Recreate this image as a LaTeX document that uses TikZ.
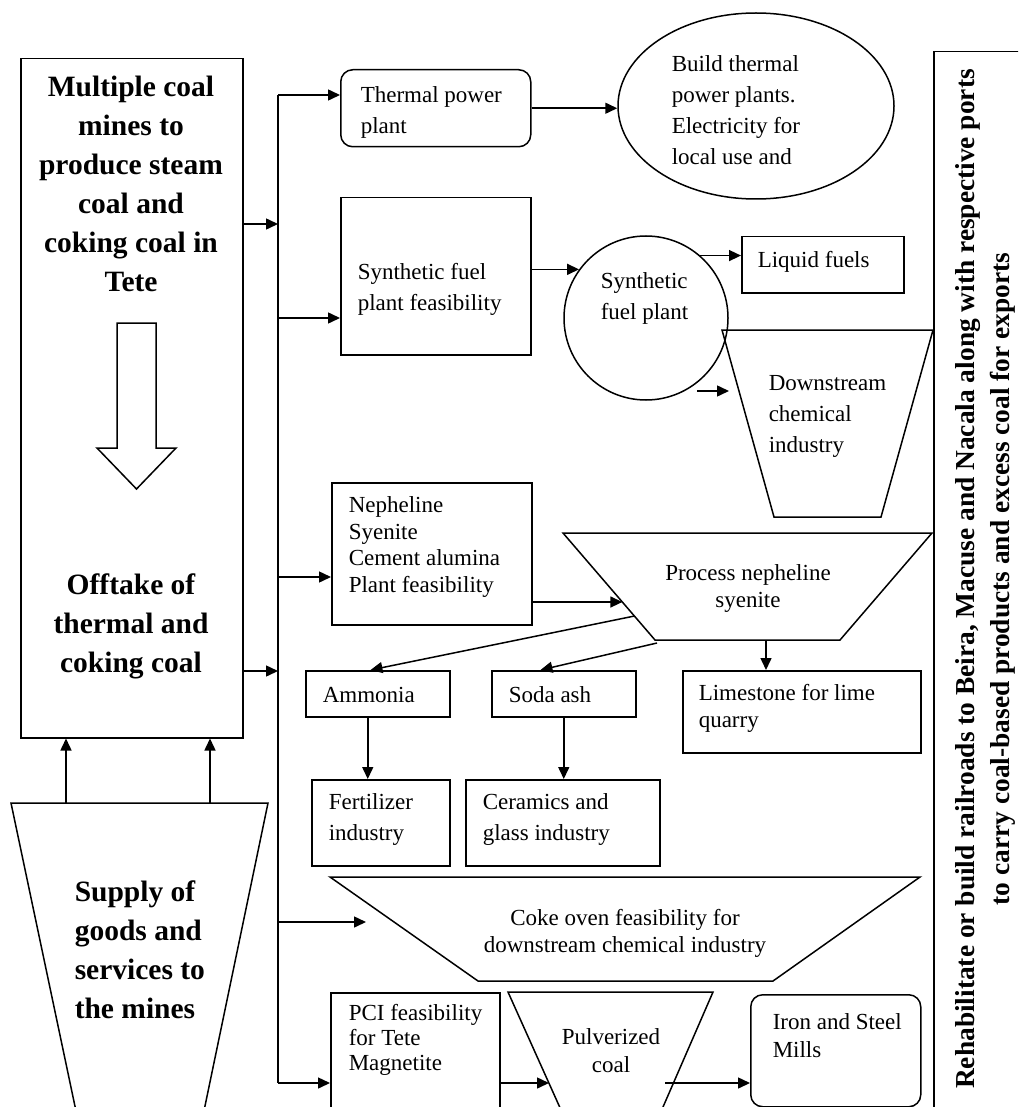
\documentclass[tikz,border=0pt]{standalone}
\usepackage{fontspec}
\setmainfont{Liberation Serif}
\usetikzlibrary{arrows.meta,shapes.geometric,calc}
\tikzset{
  arr/.style={-{Triangle[length=12pt,width=11pt]}},
  box/.style={draw, rectangle, inner sep=0pt, anchor=north west},
  rbox/.style={box, rounded corners=12pt},
  txt/.style={inner sep=0pt, align=left, anchor=west, font=\fontsize{23}{31}\selectfont},
  txtn/.style={txt, font=\fontsize{23}{26.5}\selectfont},
  btxt/.style={inner sep=0pt, font=\bfseries\fontsize{29.5}{39}\selectfont},
}
\begin{document}
\begin{tikzpicture}[x=1pt,y=-1pt,line width=1.5pt]
\useasboundingbox (0,0) rectangle (1018,1107);
\clip (0,0) rectangle (1018,1107);
\fill[white] (0,0) rectangle (1018,1107);

% left column
\node[box, minimum width=222pt, minimum height=679pt] (main) at (20,58) {};
\node[btxt, align=center] (maint) at (131,184) {Multiple coal\\mines to\\produce steam\\coal and\\coking coal in\\Tete};
\node[btxt, align=center] (offt) at (131,626) {Offtake of\\thermal and\\coking coal};
\draw (117,323) -- (156,323) -- (156,448) -- (176,448) -- (136.5,489) -- (97,448) -- (117,448) -- cycle;

\draw (11,803) -- (268,803) -- (200,1130) -- (80,1130) -- cycle;
\node[btxt, align=left, anchor=west] (supt) at (74,950) {Supply of\\goods and\\services to\\the mines};
\coordinate (s1) at (66,803);
\coordinate (s2) at (210,803);
\draw[arr] (s1) -- (s1 |- main.south);
\draw[arr] (s2) -- (s2 |- main.south);

% bus
\coordinate (b1) at (278,95);
\coordinate (b2) at (278,224);
\coordinate (b3) at (278,318);
\coordinate (b4) at (278,577);
\coordinate (b5) at (278,671);
\coordinate (b6) at (278,922);
\coordinate (b7) at (278,1083);
\draw (b1) -- (b7);
\draw[arr] (main.east |- b2) -- (b2);
\draw[arr] (main.east |- b5) -- (b5);

% thermal
\node[rbox, minimum width=190pt, minimum height=77pt] (tpp) at (340,69) {};
\node[txt] (tppt) at (360,112) {Thermal power\\plant};
\node[draw, ellipse, minimum width=276pt, minimum height=186pt, inner sep=0pt] (ell) at (756,106) {};
\node[txt] (ellt) at (671,110) {Build thermal\\power plants.\\Electricity for\\local use and};
\draw[arr] (b1) -- (b1 -| tpp.west);
\draw[arr] (tpp.east) -- (tpp.east -| ell.west);

% synthetic fuel
\node[box, minimum width=190pt, minimum height=157pt] (sfb) at (340,197) {};
\node[txt] (sfbt) at (357,289) {Synthetic fuel\\plant feasibility};
\draw[arr] (b3) -- (b3 -| sfb.west);
\node[draw, circle, minimum size=164pt, inner sep=0pt] (circ) at (646,318) {};
\node[txt] (circt) at (600,298) {Synthetic\\fuel plant};
\draw[arr] (sfb.east |- circ.144) -- (circ.144);
\node[box, minimum width=162pt, minimum height=56pt] (liq) at (741,236) {};
\node[txt] (liqt) at (757,262) {Liquid fuels};
\draw[arr] (circ.49) -- (circ.49 -| liq.west);
\coordinate (ds1) at (722,330);
\coordinate (ds2) at (933,330);
\coordinate (ds3) at (881,517);
\coordinate (ds4) at (774,517);
\draw (ds1) -- (ds2) -- (ds3) -- (ds4) -- cycle;
\node[txt] (dst) at (768,416) {Downstream\\chemical\\industry};
\coordinate (dsin) at (729,391);
\coordinate (dsout) at (697,391);
\draw[arr] (dsout) -- (dsin);

% nepheline
\node[box, minimum width=200pt, minimum height=142pt] (neph) at (331,482) {};
\node[txtn] (nepht) at (348,547) {Nepheline\\Syenite\\Cement alumina\\Plant feasibility};
\draw[arr] (b4) -- (b4 -| neph.west);
\coordinate (p1) at (563,533);
\coordinate (p2) at (932,533);
\coordinate (p3) at (840,640);
\coordinate (p4) at (655,640);
\draw (p1) -- (p2) -- (p3) -- (p4) -- cycle;
\node[inner sep=0pt, align=center, font=\fontsize{23}{27}\selectfont] (pnst) at (748,588) {Process nepheline\\syenite};
\coordinate (pin) at ($(p1)!0.645!(p4)$);
\draw[arr] (neph.east |- pin) -- (pin);

\node[box, minimum width=144pt, minimum height=46pt] (amm) at (305,670) {};
\node[txt] (ammt) at (322,695) {Ammonia};
\node[box, minimum width=144pt, minimum height=46pt] (soda) at (491,670) {};
\node[txt] (sodat) at (508,695) {Soda ash};
\node[box, minimum width=238pt, minimum height=82pt] (lime) at (682,670) {};
\node[txt, font=\fontsize{23}{27}\selectfont] (limet) at (698,708) {Limestone for lime\\quarry};
\coordinate (pa) at ($(p1)!0.776!(p4)$);
\coordinate (pb) at (657,643);
\coordinate (pc) at (766,640);
\draw[arr] (pa) -- ($(amm.north west)!0.45!(amm.north east)$);
\draw[arr] (pb) -- ($(soda.north west)!0.34!(soda.north east)$);
\draw[arr] (pc) -- (pc |- lime.north);

\node[box, minimum width=138pt, minimum height=86pt] (fert) at (311,779) {};
\node[txt] (fertt) at (328,819) {Fertilizer\\industry};
\node[box, minimum width=194pt, minimum height=86pt] (cer) at (465,779) {};
\node[txt] (cert) at (482,819) {Ceramics and\\glass industry};
\draw[arr] ([xshift=-10pt]amm.south) -- ([xshift=-10pt]amm.south |- fert.north);
\draw[arr] (soda.south) -- (soda.south |- cer.north);

% coke oven
\coordinate (c1) at (330,877);
\coordinate (c2) at (920,877);
\coordinate (c3) at (773,981);
\coordinate (c4) at (478,981);
\draw (c1) -- (c2) -- (c3) -- (c4) -- cycle;
\node[inner sep=0pt, align=center, font=\fontsize{23}{27}\selectfont] (coket) at (625,933) {Coke oven feasibility for\\downstream chemical industry};
\coordinate (cin) at (366,922);
\draw[arr] (b6) -- (cin);

% PCI
\node[box, minimum width=169pt, minimum height=140pt] (pci) at (330,992) {};
\node[txt, font=\fontsize{23}{25}\selectfont] (pcit) at (348,1040) {PCI feasibility\\for Tete\\Magnetite};
\draw[arr] (b7) -- (b7 -| pci.west);
\coordinate (q1) at (508,992);
\coordinate (q2) at (713,992);
\coordinate (q3) at (653,1130);
\coordinate (q4) at (570,1130);
\draw (q1) -- (q2) -- (q3) -- (q4) -- cycle;
\node[inner sep=0pt, align=center, font=\fontsize{23}{28}\selectfont] (pulvt) at (611,1051) {Pulverized\\coal};
\coordinate (qin) at (549,1083);
\coordinate (qout) at (665,1083);
\draw[arr] (pci.east |- qin) -- (qin);
\node[rbox, minimum width=170pt, minimum height=112pt] (iron) at (750,994) {};
\node[txt, font=\fontsize{23}{28}\selectfont] (iront) at (772,1036) {Iron and Steel\\Mills};
\draw[arr] (qout) -- (qout -| iron.west);

% right box
\node[box, minimum width=120pt, minimum height=1100pt] (rail) at (933,51) {};
\node[inner sep=0pt, rotate=90, align=center, font=\bfseries\fontsize{27.4}{35}\selectfont] (railt) at (985,579) {Rehabilitate or build railroads to Beira, Macuse and Nacala along with respective ports\\to carry coal-based products and excess coal for exports};
\end{tikzpicture}
\end{document}
